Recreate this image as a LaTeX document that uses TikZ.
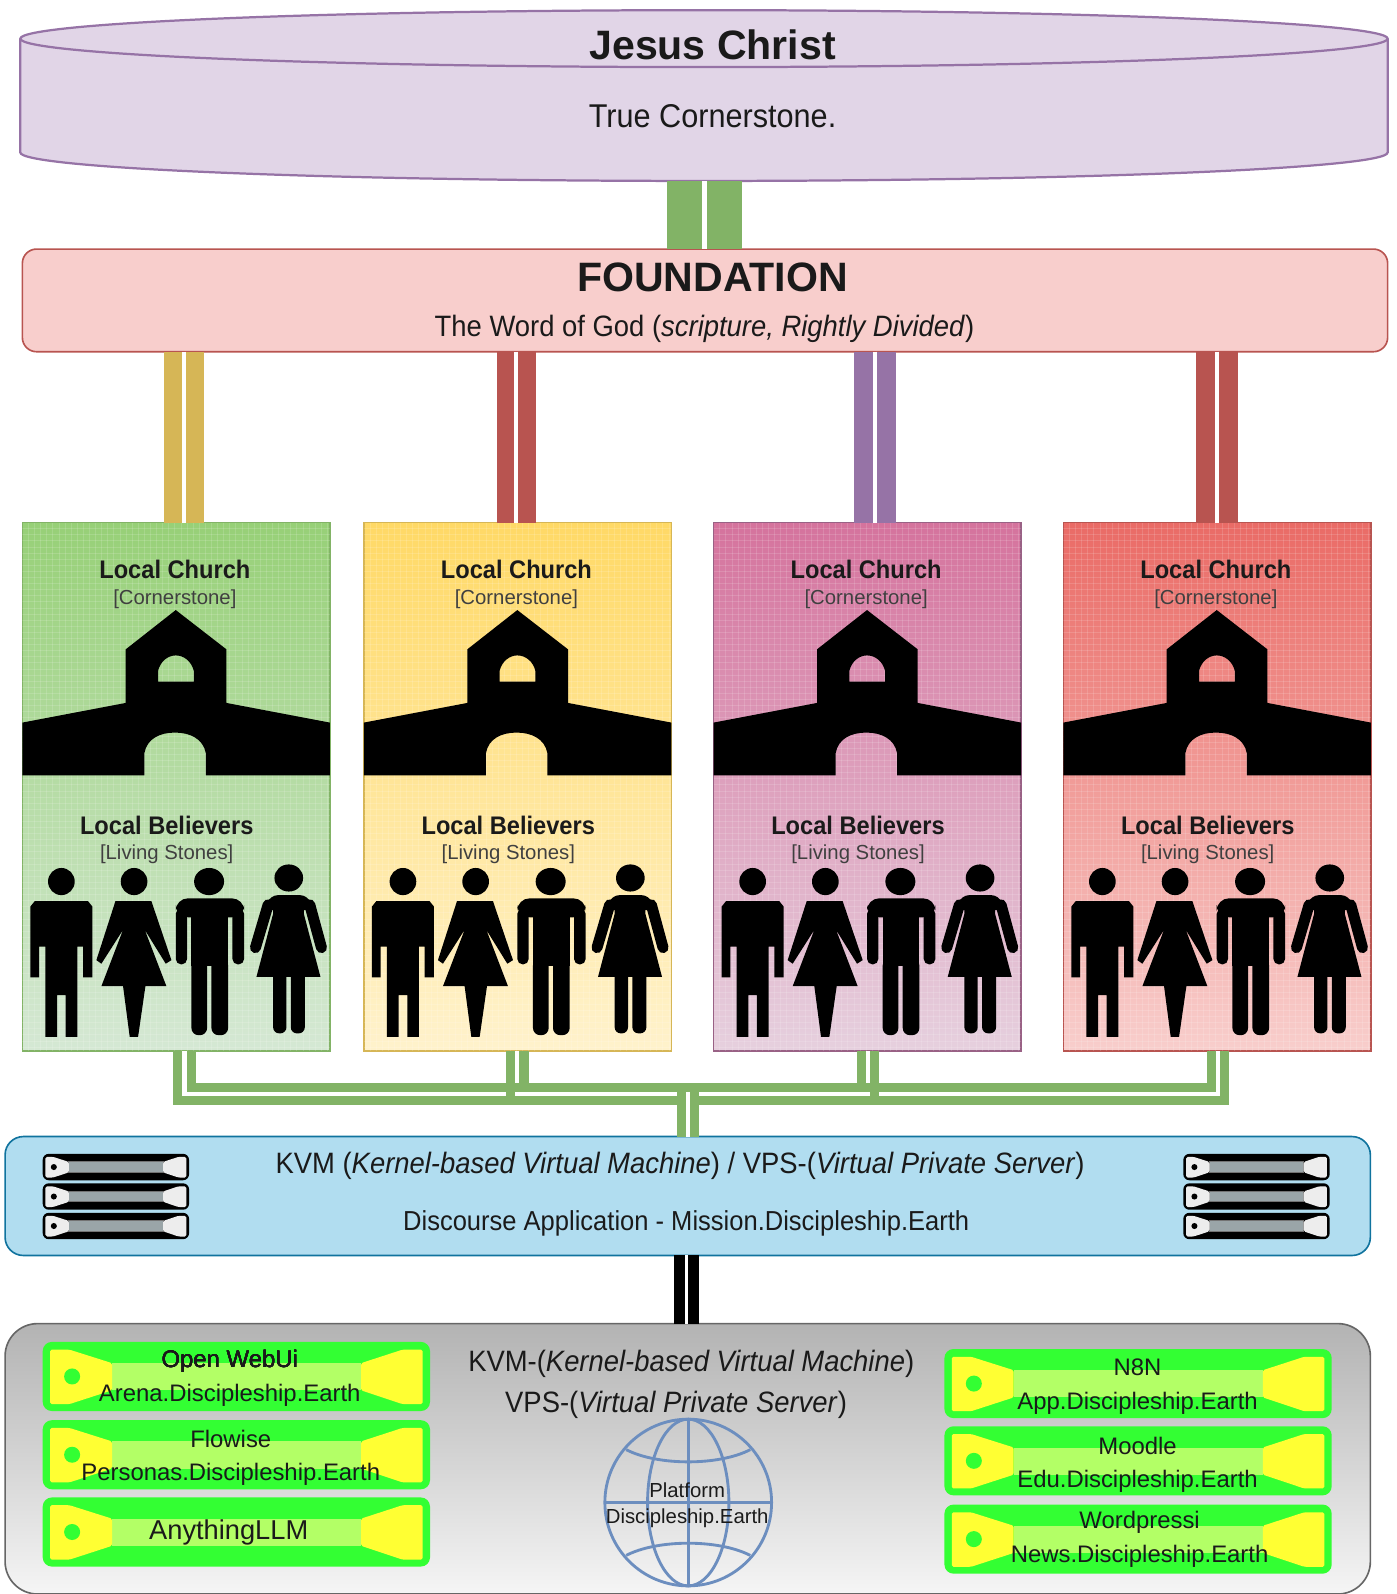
\documentclass[tikz,border=0pt]{standalone}
\usepackage{fontspec}
\setmainfont{Liberation Sans}
\newfontfamily\condfont[FakeStretch=0.93]{Liberation Sans}
\definecolor{cylf}{HTML}{E1D5E7}\definecolor{cyls}{HTML}{9673A6}
\definecolor{fndf}{HTML}{F8CECC}\definecolor{fnds}{HTML}{B85450}
\definecolor{lkgreen}{HTML}{82B366}\definecolor{lkgold}{HTML}{D6B656}
\definecolor{lkred}{HTML}{B85450}\definecolor{lkpurple}{HTML}{9673A6}
\definecolor{gtop}{HTML}{97D077}\definecolor{gbot}{HTML}{D5E8D4}
\definecolor{ytop}{HTML}{FFD966}\definecolor{ybot}{HTML}{FFF2CC}
\definecolor{ptop}{HTML}{D5739D}\definecolor{pbot}{HTML}{E6D0DE}\definecolor{pstr}{HTML}{996185}
\definecolor{rtop}{HTML}{EA6B66}\definecolor{rbot}{HTML}{F8CECC}
\definecolor{kvmf}{HTML}{B1DDF0}\definecolor{kvms}{HTML}{10739E}
\definecolor{gray1}{HTML}{B3B3B3}\definecolor{gray2}{HTML}{F5F5F5}\definecolor{gray3}{HTML}{666666}
\definecolor{globe}{HTML}{6C8EBF}
\definecolor{fgreen}{HTML}{33FF33}\definecolor{fyel}{HTML}{FFFF33}\definecolor{fbar}{HTML}{B3FF66}
\definecolor{sbar}{HTML}{9AA5A8}\definecolor{swht}{HTML}{EDEDED}
\definecolor{ink}{HTML}{1A1A1A}
\tikzset{
 box/.style 2 args={anchor=north west,inner sep=0pt,outer sep=0pt,minimum width=#1*0.5pt,minimum height=#2*0.5pt},
 linkpair/.style 2 args={draw=#1,line width=#2,double=white,double distance=2pt},
 busband/.style={draw=lkgreen,line width=11pt,miter limit=10},
 busgap/.style={draw=white,line width=2pt},
 tjesus/.style={font=\fontsize{20.2}{24}\selectfont\bfseries,text=ink,inner sep=0pt},
 tbig/.style={font=\condfont\fontsize{16.2}{19}\selectfont,text=ink,inner sep=0pt},
 tmid/.style={font=\condfont\fontsize{14.5}{17}\selectfont,text=ink,inner sep=0pt},
 tlocal/.style={font=\condfont\fontsize{12.5}{15}\selectfont\bfseries,text=ink,inner sep=0pt},
 tsmall/.style={font=\fontsize{10}{12}\selectfont,text=black!75,inner sep=0pt},
 tbox/.style={font=\fontsize{11.75}{14}\selectfont,text=ink,inner sep=0pt},
 tglobe/.style={font=\fontsize{10}{12}\selectfont,text=ink,inner sep=0pt},
}
% rack unit: x y w h frame ends bar dot
\newcommand{\rackunit}[8]{%
 \begin{scope}[shift={(#1,#2)},xscale=#3,yscale=#4]
  \fill[rounded corners=3pt,#5] (0,0) rectangle (1,1);
  \fill[#7] (.179,.307) rectangle (.822,.70);
  \fill[#6,rounded corners=.8pt] (.019,.112) -- (.069,.112) -- (.179,.307) -- (.179,.70) -- (.069,.90) -- (.019,.90) -- cycle;
  \fill[#6,rounded corners=.8pt] (.981,.112) -- (.929,.112) -- (.822,.307) -- (.822,.70) -- (.929,.90) -- (.981,.90) -- cycle;
  \fill[#8] (.076,.5) ellipse[x radius=.0207,y radius=.0207*#3/#4];
 \end{scope}}
% church and people silhouettes, in the crop's coordinates
\newcommand{\churchart}[2]{%
 \begin{scope}[shift={(#1,#2)},x=0.164pt,y=-0.1757pt,shift={(-68,-60)}]
  \fill[black,even odd rule]
   (68,620) -- (378,565) -- (378,415) -- (528,305) -- (680,415) -- (680,565) -- (990,620) -- (990,768)
   -- (618,768) -- (618,705) .. controls (610,665) and (570,648) .. (526,648) .. controls (480,648) and (442,665) .. (434,705) -- (434,768) -- (68,768) -- cycle
   (475,505) -- (475,475) .. controls (482,448) and (505,432) .. (528,432) .. controls (552,432) and (575,448) .. (582,475) -- (582,505) -- cycle;
  % person 1
  \fill (185,1065) ellipse[x radius=40,y radius=38];
  \fill (92,1135) -- (105,1120) -- (265,1120) -- (278,1135) -- (278,1333) -- (250,1333) -- (250,1247) -- (233,1247) -- (233,1500) -- (198,1500) -- (198,1383) -- (172,1383) -- (172,1500) -- (137,1500) -- (137,1247) -- (118,1247) -- (118,1333) -- (92,1333) -- cycle;
  % person 2
  \fill (403,1065) ellipse[x radius=40,y radius=38];
  \fill (347,1120) -- (455,1120) -- (515,1285) -- (498,1295) -- (435,1200) -- (500,1358) -- (437,1358) -- (415,1500) -- (390,1500) -- (370,1358) -- (305,1358) -- (370,1200) -- (305,1295) -- (290,1285) -- cycle;
  % person 3
  \fill (628,1065) ellipse[x radius=45,y radius=38];
  \fill[rounded corners=6pt] (528,1112) -- (733,1112) -- (733,1165) -- (528,1165) -- cycle;
  \fill[rounded corners=2.7pt] (528,1140) -- (528,1297) -- (562,1297) -- (562,1140) -- cycle;
  \fill[rounded corners=2.7pt] (698,1140) -- (698,1297) -- (733,1297) -- (733,1140) -- cycle;
  \fill (575,1140) rectangle (685,1300);
  \fill[rounded corners=3.5pt] (575,1280) -- (575,1495) -- (622,1495) -- (622,1280) -- cycle;
  \fill[rounded corners=3.5pt] (635,1280) -- (635,1495) -- (685,1495) -- (685,1280) -- cycle;
  % person 4
  \fill (867,1055) ellipse[x radius=43,y radius=38];
  \fill[rounded corners=4pt] (795,1145) -- (810,1103) -- (925,1103) -- (940,1145) -- cycle;
  \draw[line width=5.4pt,line cap=round] (805,1130) -- (767,1250);
  \draw[line width=5.4pt,line cap=round] (930,1130) -- (965,1250);
  \fill (820,1110) -- (912,1110) -- (912,1155) -- (962,1332) -- (770,1332) -- (820,1155) -- cycle;
  \fill[rounded corners=3pt] (820,1300) -- (820,1490) -- (860,1490) -- (860,1300) -- cycle;
  \fill[rounded corners=3pt] (873,1300) -- (873,1490) -- (915,1490) -- (915,1300) -- cycle;
 \end{scope}}
\begin{document}
\begin{tikzpicture}[x=0.5pt,y=-0.5pt,line join=miter]
\useasboundingbox (0,0) rectangle (1374.2,1568);
% cornerstone
\node[box={1345}{168}] (cyl) at (20,10) {};
\draw[cyls,line width=1.1pt,fill=cylf] (20,38) arc[x radius=672.5,y radius=28,start angle=180,end angle=360] -- (1365,150)
  arc[x radius=672.5,y radius=28,start angle=0,end angle=180] -- cycle;
\draw[cyls,line width=1.1pt] (20,38) arc[x radius=672.5,y radius=28,start angle=180,end angle=0];
\node[tjesus] (jc) at (701,44) {Jesus Christ};
\node[tbig] (tc) at (701,114) {True Cornerstone.};
% foundation
\node[box={1343}{101},draw=fnds,fill=fndf,line width=.8pt,rounded corners=7pt] (fnd) at (22,245) {};
\node[tjesus] (fndt) at (701,273) {FOUNDATION};
\node[tmid] (fnds) at (693,324) {The Word of God (\textit{scripture, Rightly Divided})};
% churches
\foreach \n/\x/\topc/\botc/\strc in {1/22/gtop/gbot/lkgreen,2/358/ytop/ybot/lkgold,3/702/ptop/pbot/pstr,4/1046/rtop/rbot/fnds}{
 \node[box={302.5}{520},top color=\topc,bottom color=\botc,draw=\strc,line width=.8pt] (ch\n) at (\x,514) {};
 \begin{scope}
  \clip (\x,514) rectangle ++(302.5,520);
  \foreach \g in {6,12,...,300} \draw[white,opacity=.14,line width=.4pt] (\x+\g,514) -- ++(0,520);
  \foreach \g in {6,12,...,516} \draw[white,opacity=.14,line width=.4pt] (\x,514+\g) -- ++(302.5,0);
 \end{scope}
 \churchart{\x}{514}
 \node[tlocal] (lc\n) at (\x+150,560) {Local Church};
 \node[tsmall] (cs\n) at (\x+150,589) {[Cornerstone]};
 \node[tlocal] (lb\n) at (\x+142,812) {Local Believers};
 \node[tsmall] (ls\n) at (\x+142,840) {[Living Stones]};
}
% links into the foundation and the churches
\coordinate (lt) at (693,178); \coordinate (l1) at (181,346); \coordinate (l2) at (508,346); \coordinate (l3) at (860.5,346); \coordinate (l4) at (1197,346);
\draw[linkpair={lkgreen}{17.25pt}] (lt) -- (lt |- fnd.north);
\draw[linkpair={lkgold}{9pt}] (l1) -- (l1 |- ch1.north);
\draw[linkpair={lkred}{8.75pt}] (l2) -- (l2 |- ch2.north);
\draw[linkpair={lkpurple}{9.25pt}] (l3) -- (l3 |- ch3.north);
\draw[linkpair={lkred}{9.5pt}] (l4) -- (l4 |- ch4.north);
% KVM box
\node[box={1343}{117},draw=kvms,fill=kvmf,line width=.8pt,rounded corners=9pt] (kvm) at (5,1118) {};
\node[tmid] (kvm1) at (669,1147) {KVM (\textit{Kernel-based Virtual Machine}) / VPS-(\textit{Virtual Private Server})};
\node[tmid,font=\condfont\fontsize{13.5}{17}\selectfont] (kvm2) at (675,1203) {Discourse Application - Mission.Discipleship.Earth};
\foreach \xx in {42,1164}{
 \rackunit{\xx}{1135}{144}{26}{black}{swht}{sbar,draw=black!55,line width=.5pt}{black}
 \rackunit{\xx}{1164}{144}{26}{black}{swht}{sbar,draw=black!55,line width=.5pt}{black}
 \rackunit{\xx}{1193}{144}{26}{black}{swht}{sbar,draw=black!55,line width=.5pt}{black}
}
% church bus
\coordinate (b1) at (181.5,1034); \coordinate (b2) at (509,1034); \coordinate (b3) at (853.8,1034); \coordinate (b4) at (1198,1034);
\coordinate (hub) at (677,1076); \coordinate (upper) at (0,1065);
\coordinate (hubtop) at (677,1074);
\coordinate (g1) at (498,1076); \coordinate (g2) at (507,1076); \coordinate (g3) at (666,1076);
\coordinate (g4) at (688,1076); \coordinate (g5) at (856,1076); \coordinate (g6) at (865,1076);
\foreach \b in {b1,b2,b3,b4} \draw[busband] (\b) |- (hub);
\draw[busband] (hub) -- (hub |- kvm.north);
\draw[busgap] (b1) |- (g1);
\draw[busgap] (g2) -- (g3);
\draw[busgap] (g4) -- (g5);
\draw[busgap] (b4) |- (g6);
\draw[busgap] (b2) -- (b2 |- upper);
\draw[busgap] (b3) -- (b3 |- upper);
\draw[busgap] (hubtop) -- (hubtop |- kvm.north);
% lower panel
\node[box={1343}{266},top color=gray1,bottom color=gray2,draw=gray3,line width=.8pt,rounded corners=16pt] (panel) at (5,1302) {};
\coordinate (lb) at (675.5,1235);
\draw[linkpair={black}{5.5pt},double distance=1.5pt] (lb) -- (lb |- panel.north);
\node[tmid] (p1) at (680,1342) {KVM-(\textit{Kernel-based Virtual Machine})};
\node[tmid] (p2) at (665,1382) {VPS-(\textit{Virtual Private Server})};
% globe
\begin{scope}[shift={(677,1478)},globe,line width=1.4pt]
 \draw (0,0) circle[radius=82];
 \draw (0,0) ellipse[x radius=40,y radius=82];
 \draw (0,-82) -- (0,82);
 \draw (-82,0) -- (82,0);
 \draw (-61,-52) .. controls (-30,-36) and (30,-36) .. (61,-52);
 \draw (-61,52) .. controls (-30,36) and (30,36) .. (61,52);
\end{scope}
\node[tglobe] (g1t) at (676,1466) {Platform};
\node[tglobe] (g2t) at (676,1493) {Discipleship.Earth};
% application boxes
\foreach \xx/\yy in {42/1320,42/1397,42/1473,929/1327,929/1403,929/1480}
 \rackunit{\xx}{\yy}{381}{68}{fgreen,rounded corners=4.5pt}{fyel}{fbar}{fgreen}
\node[tbox] (a1) at (226,1339) {Open WebUi};
\node[tbox] (a1b) at (226,1373) {Arena.Discipleship.Earth};
\node[tbox] (a2) at (227,1415) {Flowise};
\node[tbox] (a2b) at (227,1450) {Personas.Discipleship.Earth};
\node[tbox,font=\fontsize{13.4}{16}\selectfont] (a3) at (225,1507) {AnythingLLM};
\node[tbox] (b1t) at (1119,1345) {N8N};
\node[tbox] (b1b) at (1119,1380) {App.Discipleship.Earth};
\node[tbox] (b2t) at (1119,1422) {Moodle};
\node[tbox] (b2b) at (1119,1457) {Edu.Discipleship.Earth};
\node[tbox] (b3t) at (1121,1497) {Wordpressi};
\node[tbox] (b3b) at (1121,1531) {News.Discipleship.Earth};
\end{tikzpicture}
\end{document}
